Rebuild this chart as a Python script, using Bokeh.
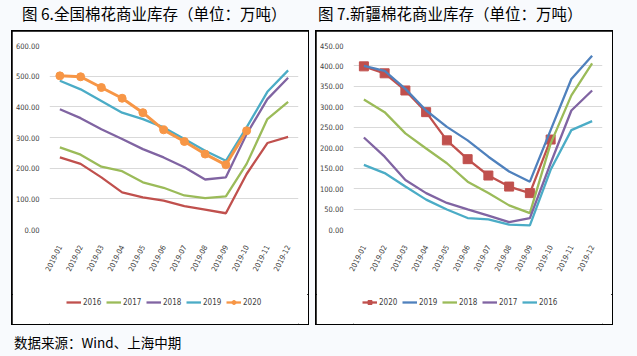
from bokeh.plotting import figure
from bokeh.models import (Range1d, NumeralTickFormatter, Legend, LegendItem, Div, FixedTicker)
from bokeh.layouts import column, row
from bokeh.embed import file_html
from bokeh.resources import INLINE
from math import radians

months = ["2019-01", "2019-02", "2019-03", "2019-04", "2019-05", "2019-06",
          "2019-07", "2019-08", "2019-09", "2019-10", "2019-11", "2019-12"]

# Figure 6: national commercial cotton stocks (10k tons)
nat_2016 = [235, 214, 170, 121, 105, 94, 76, 65, 53, 181, 282, 302]
nat_2017 = [268, 244, 205, 190, 154, 136, 111, 102, 108, 214, 360, 416]
nat_2018 = [392, 363, 327, 295, 262, 235, 203, 163, 170, 311, 425, 495]
nat_2019 = [485, 457, 419, 381, 360, 333, 295, 257, 224, 333, 449, 519]
nat_2020 = [501, 498, 463, 428, 381, 325, 287, 246, 211, 322]

# Figure 7: Xinjiang commercial cotton stocks (10k tons)
xj_2020 = [399, 382, 340, 287, 218, 172, 132, 105, 89, 220]
xj_2019 = [400, 388, 344, 291, 251, 218, 178, 142, 117, 243, 368, 425]
xj_2018 = [318, 287, 235, 198, 162, 117, 89, 59, 40, 210, 328, 406]
xj_2017 = [225, 178, 121, 89, 65, 49, 34, 18, 28, 162, 291, 340]
xj_2016 = [158, 138, 105, 73, 49, 28, 25, 12, 10, 146, 243, 265]

left_ticks = [0, 100, 200, 300, 400, 500, 600]
right_ticks = [0, 50, 100, 150, 200, 250, 300, 350, 400, 450]

RED = "#c0504d"; GREEN = "#9bbb59"; PURPLE = "#8064a2"; CYAN = "#4bacc6"
ORANGE = "#f79646"; BLUE = "#4f81bd"
NARROW = "DejaVu Sans Condensed, Liberation Sans, sans-serif"
BG = "#f8fafd"
LW = 2.3


def make_fig(ymax, ticks):
    p = figure(width=296, height=263, x_range=months, y_range=Range1d(0, ymax),
               output_backend="svg", toolbar_location=None,
               min_border_left=35, min_border_right=10, min_border_top=14,
               min_border_bottom=65, background_fill_color="white",
               border_fill_color="white", outline_line_color=None, margin=0)
    p.xgrid.grid_line_color = None
    p.ygrid.grid_line_color = "#d9d9d9"
    p.ygrid.grid_line_width = 1.2
    p.yaxis.ticker = FixedTicker(ticks=ticks)
    p.yaxis.formatter = NumeralTickFormatter(format="0.00")
    for ax in (p.xaxis[0], p.yaxis[0]):
        ax.axis_line_color = None
        ax.major_tick_line_color = None
        ax.minor_tick_line_color = None
        ax.major_label_text_font = NARROW
        ax.major_label_text_font_size = "7.5px"
        ax.major_label_text_color = "#404040"
    p.yaxis.major_label_standoff = 4
    p.xaxis.major_label_orientation = radians(63)
    p.xaxis.major_label_standoff = 10
    return p


def make_legend_fig(entries, x):
    """Strip under a chart that carries its legend. The series are drawn
    again here, but the y range keeps them out of view; only the legend shows."""
    lp = figure(width=296, height=30, x_range=months, y_range=Range1d(-2000, -1000),
                x_axis_type=None, y_axis_type=None, output_backend="svg",
                toolbar_location=None, min_border=0, outline_line_color=None,
                background_fill_color="white", border_fill_color="white", margin=0)
    items = []
    for label, values, color, marker, msize in entries:
        xs = months[:len(values)]
        rs = [lp.line(xs, values, line_color=color, line_width=LW)]
        if marker:
            rs.append(lp.scatter(xs, values, marker=marker, size=msize,
                                 fill_color=color, line_color=color))
        items.append(LegendItem(label=label, renderers=rs))
    leg = Legend(items=items, orientation="horizontal", location=(x, 17),
                 border_line_color=None, background_fill_alpha=0,
                 label_text_font=NARROW, label_text_font_size="8px",
                 label_text_color="#404040", glyph_width=15, glyph_height=10,
                 label_standoff=2, spacing=3, padding=0, margin=0,
                 label_height=10)
    lp.add_layout(leg, "center")
    return lp


# ---- left chart
p1 = make_fig(600, left_ticks)
p1.line(months, nat_2016, line_color=RED, line_width=LW)
p1.line(months, nat_2017, line_color=GREEN, line_width=LW)
p1.line(months, nat_2018, line_color=PURPLE, line_width=LW)
p1.line(months, nat_2019, line_color=CYAN, line_width=LW)
p1.line(months[:len(nat_2020)], nat_2020, line_color=ORANGE, line_width=LW + 0.7)
p1.scatter(months[:len(nat_2020)], nat_2020, marker="circle", size=8,
           fill_color=ORANGE, line_color=ORANGE)
l1 = make_legend_fig([("2016", nat_2016, RED, None, 0), ("2017", nat_2017, GREEN, None, 0),
                      ("2018", nat_2018, PURPLE, None, 0), ("2019", nat_2019, CYAN, None, 0),
                      ("2020", nat_2020, ORANGE, "circle", 7)], 17)

# ---- right chart
p2 = make_fig(450, right_ticks)
p2.line(months[:len(xj_2020)], xj_2020, line_color=RED, line_width=LW)
p2.scatter(months[:len(xj_2020)], xj_2020, marker="square", size=9,
           fill_color=RED, line_color=RED)
p2.line(months, xj_2019, line_color=BLUE, line_width=LW)
p2.line(months, xj_2018, line_color=GREEN, line_width=LW)
p2.line(months, xj_2017, line_color=PURPLE, line_width=LW)
p2.line(months, xj_2016, line_color=CYAN, line_width=LW)
l2 = make_legend_fig([("2020", xj_2020, RED, "square", 8), ("2019", xj_2019, BLUE, None, 0),
                      ("2018", xj_2018, GREEN, None, 0), ("2017", xj_2017, PURPLE, None, 0),
                      ("2016", xj_2016, CYAN, None, 0)], 9)

box_style = {"outline": "2px solid black", "outline-offset": "-1px",
             "background-color": "white"}
box1 = column(p1, l1, spacing=0, margin=(0, 0, 0, 12), styles=box_style)
box2 = column(p2, l2, spacing=0, margin=(0, 0, 0, 8), styles=box_style)

title_font = "'Noto Sans CJK SC', sans-serif"
title = Div(text=(
    f'<div style="position:relative;width:637px;height:31px;font-family:{title_font};'
    'font-size:15.5px;color:#000;white-space:nowrap;">'
    '<span style="position:absolute;left:22px;top:2px;">图 6.全国棉花商业库存（单位：万吨）</span>'
    '<span style="position:absolute;left:318px;top:2px;">图 7.新疆棉花商业库存（单位：万吨）</span>'
    '</div>'), width=637, height=31, margin=0)
footer = Div(text=(
    f'<div style="position:relative;width:637px;height:32px;font-family:{title_font};'
    'font-size:13.5px;color:#000;white-space:nowrap;">'
    '<span style="position:absolute;left:14px;top:9px;">数据来源：Wind、上海中期</span>'
    '</div>'), width=637, height=32, margin=0)

layout = column(title, row(box1, box2, spacing=0, margin=0), footer, spacing=0, margin=0,
                styles={"background-color": BG})

open("out.html", "w").write(file_html(layout, INLINE))
